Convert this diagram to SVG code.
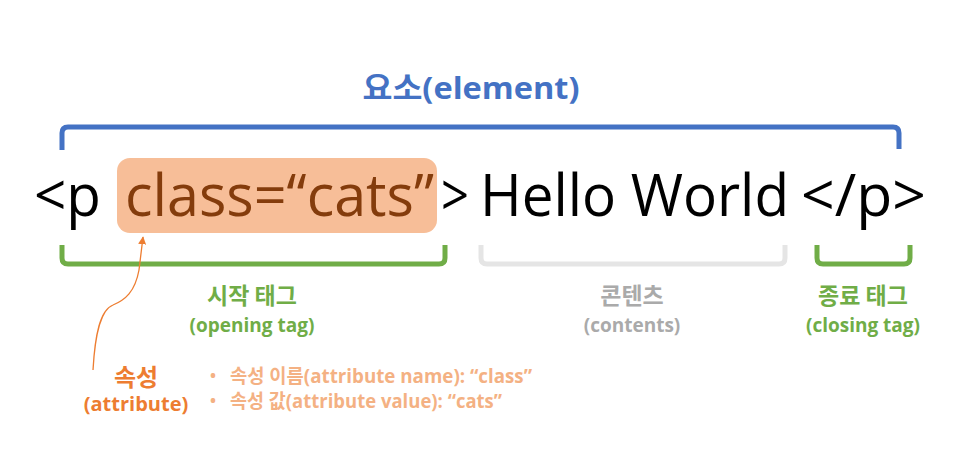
<svg xmlns="http://www.w3.org/2000/svg" width="954" height="463" viewBox="0 0 954 463">
<style>
  .f { font-family: "Open Sans", "Noto Sans CJK KR", sans-serif; }
  .code { font-family: "Open Sans", "Noto Sans", sans-serif; font-size: 58px; fill: #000; }
  .br { fill: none; stroke-width: 5; stroke-linejoin: round; stroke-linecap: butt; }
  .lbl { font-family: "Noto Sans CJK KR", "Open Sans", sans-serif; font-weight: bold; text-anchor: middle; }
  .sub { font-family: "Open Sans", "Noto Sans CJK KR", sans-serif; font-weight: bold; text-anchor: middle; }
  .green { fill: #70AD47; }
  .gray { fill: #AAAAAA; }
  .orange { fill: #ED7D31; }
  .peach { fill: #F4B183; }
</style>
<defs>
  <marker id="arr" viewBox="0 0 10 10" refX="9" refY="5" markerWidth="8" markerHeight="8" markerUnits="userSpaceOnUse" orient="auto">
    <path d="M0,0 L10,5 L0,10 Z" fill="#ED7D31"/>
  </marker>
</defs>
<rect width="954" height="463" fill="#fff"/>

<g id="element">
  <path class="br" stroke="#4472C4" d="M62,150 V133 Q62,127 68,127 H893 Q899,127 899,133 V149"/>
  <text class="lbl" x="471" y="99" font-size="31" fill="#4472C4" textLength="217" lengthAdjust="spacingAndGlyphs"><tspan font-family="Noto Sans CJK KR, sans-serif">요소</tspan><tspan font-family="Open Sans, sans-serif">(element)</tspan></text>
</g>

<g id="code-line">
  <rect x="117" y="158" width="320" height="75" rx="13" fill="#F7BE98"/>
  <text class="code" x="34" y="216" textLength="67" lengthAdjust="spacingAndGlyphs">&lt;p</text>
  <text class="code" x="125" y="216" fill="#843C0C" style="fill:#843C0C" textLength="309" lengthAdjust="spacingAndGlyphs">class=“cats”</text>
  <text class="code" x="441" y="216" textLength="28" lengthAdjust="spacingAndGlyphs">&gt;</text>
  <text class="code" x="480" y="216" textLength="309" lengthAdjust="spacingAndGlyphs">Hello World</text>
  <text class="code" x="801" y="216" textLength="125" lengthAdjust="spacingAndGlyphs">&lt;/p&gt;</text>
</g>

<g id="opening-tag">
  <path class="br" stroke="#70AD47" d="M62,245 V258 Q62,264 68,264 H439 Q445,264 445,258 V245"/>
  <text class="lbl green" x="252" y="304" font-size="23">시작 태그</text>
  <text class="sub green" x="252" y="332" font-size="19">(opening tag)</text>
</g>

<g id="contents">
  <path class="br" stroke="#E5E5E5" d="M481,245 V258 Q481,264 487,264 H779 Q785,264 785,258 V245"/>
  <text class="lbl gray" x="632" y="304" font-size="23">콘텐츠</text>
  <text class="sub gray" x="632" y="332" font-size="19">(contents)</text>
</g>

<g id="closing-tag">
  <path class="br" stroke="#70AD47" d="M817,245 V258 Q817,264 823,264 H904 Q910,264 910,258 V245"/>
  <text class="lbl green" x="863" y="304" font-size="23">종료 태그</text>
  <text class="sub green" x="863" y="332" font-size="19">(closing tag)</text>
</g>

<g id="attribute">
  <text class="lbl orange" x="136" y="386" font-size="24">속성</text>
  <text class="sub orange" x="136" y="411" font-size="20">(attribute)</text>
</g>

<g id="attribute-details">
  <text class="f peach" x="210" y="381" font-size="16" font-weight="bold">•</text>
  <text class="f peach" x="230" y="383" font-size="19" font-weight="bold" textLength="302" lengthAdjust="spacingAndGlyphs">속성 이름(attribute name): “class”</text>
  <text class="f peach" x="210" y="406" font-size="16" font-weight="bold">•</text>
  <text class="f peach" x="230" y="408" font-size="19" font-weight="bold" textLength="272" lengthAdjust="spacingAndGlyphs">속성 값(attribute value): “cats”</text>
</g>

<g id="connectors">
  <path d="M93,370 C95,335 100,310 113,305 C125,300 135,292 139,270 L143,237" fill="none" stroke="#ED7D31" stroke-width="1.3" marker-end="url(#arr)"/>
</g>
</svg>
